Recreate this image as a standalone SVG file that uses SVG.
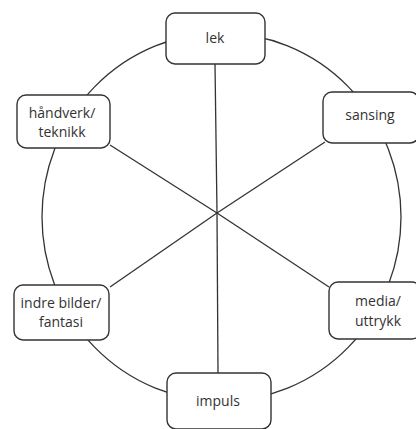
<svg xmlns="http://www.w3.org/2000/svg" width="416" height="429" viewBox="0 0 416 429">
<style>
.box{fill:#fff;stroke:#333;stroke-width:1.4}
.ln{stroke:#333;stroke-width:1.3;fill:none}
text{font-family:"Open Sans","Noto Sans","Liberation Sans",sans-serif;font-size:14px;fill:#333;text-anchor:middle}
</style>
<rect width="416" height="429" fill="#fff"/>
<g id="connectors">
<ellipse class="ln" cx="221.5" cy="217" rx="179.5" ry="184"/>
<line class="ln" x1="217" y1="213" x2="215" y2="64"/>
<line class="ln" x1="217" y1="213" x2="218" y2="373"/>
<line class="ln" x1="217" y1="213" x2="110" y2="145"/>
<line class="ln" x1="217" y1="213" x2="325" y2="142"/>
<line class="ln" x1="217" y1="213" x2="110" y2="287"/>
<line class="ln" x1="217" y1="213" x2="329" y2="287"/>
</g>
<g id="lek">
<rect class="box" x="166" y="13" width="99" height="51" rx="9"/>
<text x="215" y="43">lek</text>
</g>
<g id="sansing">
<rect class="box" x="323" y="92" width="96" height="51" rx="9"/>
<text x="370" y="120">sansing</text>
</g>
<g id="haandverk">
<rect class="box" x="17" y="95" width="93" height="53" rx="9"/>
<text x="62" y="118">håndverk/</text>
<text x="62" y="137">teknikk</text>
</g>
<g id="indre">
<rect class="box" x="14" y="285" width="95" height="55" rx="9"/>
<text x="61" y="308">indre bilder/</text>
<text x="61" y="327">fantasi</text>
</g>
<g id="media">
<rect class="box" x="329" y="282" width="92" height="57" rx="9"/>
<text x="378" y="306">media/</text>
<text x="378" y="326">uttrykk</text>
</g>
<g id="impuls">
<rect class="box" x="167" y="373" width="104" height="56" rx="9"/>
<text x="218" y="406">impuls</text>
</g>
</svg>
